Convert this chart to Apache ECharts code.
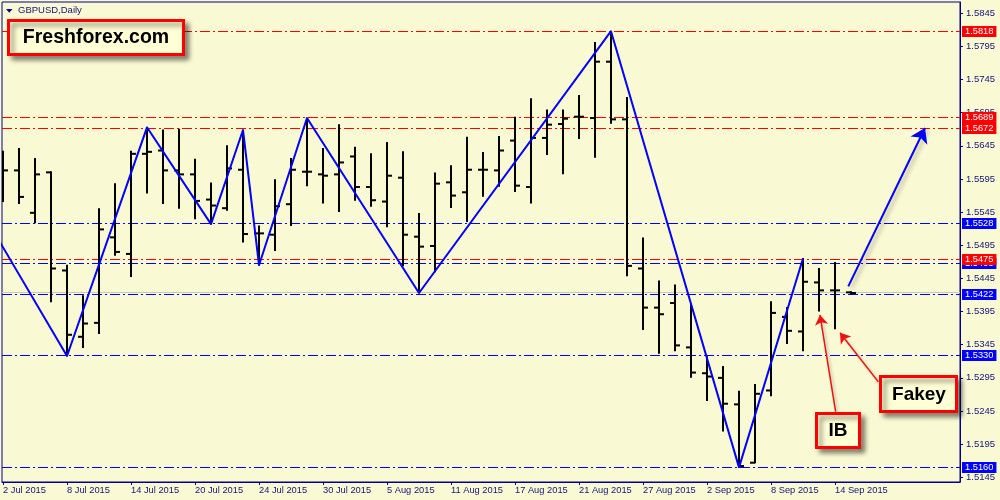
<!DOCTYPE html>
<html><head><meta charset="utf-8">
<script src="https://cdn.jsdelivr.net/npm/echarts@6/dist/echarts.min.js"></script>
<style>html,body{margin:0;padding:0;background:#f9f9d3}#c{width:1000px;height:500px}</style>
</head><body><div id="c"></div><script>
// ---- data ----
const dates = ['2 Jul 2015','3 Jul 2015','6 Jul 2015','7 Jul 2015','8 Jul 2015','9 Jul 2015','10 Jul 2015','13 Jul 2015','14 Jul 2015','15 Jul 2015','16 Jul 2015','17 Jul 2015','20 Jul 2015','21 Jul 2015','22 Jul 2015','23 Jul 2015','24 Jul 2015','27 Jul 2015','28 Jul 2015','29 Jul 2015','30 Jul 2015','31 Jul 2015','3 Aug 2015','4 Aug 2015','5 Aug 2015','6 Aug 2015','7 Aug 2015','10 Aug 2015','11 Aug 2015','12 Aug 2015','13 Aug 2015','14 Aug 2015','17 Aug 2015','18 Aug 2015','19 Aug 2015','20 Aug 2015','21 Aug 2015','24 Aug 2015','25 Aug 2015','26 Aug 2015','27 Aug 2015','28 Aug 2015','31 Aug 2015','1 Sep 2015','2 Sep 2015','3 Sep 2015','4 Sep 2015','7 Sep 2015','8 Sep 2015','9 Sep 2015','10 Sep 2015','11 Sep 2015','14 Sep 2015','15 Sep 2015'];
const open  = [1.5620,1.5608,1.5544,1.5605,1.5457,1.5357,1.5378,1.5507,1.5482,1.5633,1.5638,1.5608,1.5602,1.5564,1.5551,1.5609,1.5513,1.5511,1.5557,1.5606,1.5602,1.5602,1.5629,1.5583,1.5561,1.5597,1.5508,1.5494,1.5590,1.5575,1.5609,1.5608,1.5653,1.5583,1.5657,1.5678,1.5689,1.5687,1.5772,1.5685,1.5460,1.5401,1.5408,1.5341,1.5302,1.5295,1.5255,1.5167,1.5276,1.5387,1.5365,1.5439,1.5427,1.5424];
const high  = [1.5637,1.5641,1.5626,1.5606,1.5465,1.5419,1.5550,1.5588,1.5637,1.5673,1.5669,1.5670,1.5625,1.5589,1.5645,1.5669,1.5524,1.5594,1.5626,1.5687,1.5641,1.5677,1.5643,1.5633,1.5650,1.5636,1.5543,1.5604,1.5615,1.5658,1.5635,1.5659,1.5688,1.5716,1.5699,1.5699,1.5721,1.5801,1.5818,1.5718,1.5506,1.5441,1.5435,1.5406,1.5327,1.5312,1.5275,1.5285,1.5410,1.5401,1.5475,1.5460,1.5469,1.5425];
const low   = [1.5561,1.5558,1.5529,1.5410,1.5328,1.5341,1.5362,1.5480,1.5448,1.5574,1.5558,1.5551,1.5535,1.5527,1.5548,1.5500,1.5465,1.5487,1.5525,1.5585,1.5559,1.5546,1.5563,1.5554,1.5523,1.5464,1.5423,1.5455,1.5552,1.5531,1.5569,1.5584,1.5576,1.5559,1.5632,1.5603,1.5656,1.5628,1.5679,1.5449,1.5368,1.5332,1.5336,1.5296,1.5261,1.5215,1.5160,1.5167,1.5268,1.5347,1.5336,1.5396,1.5369,1.5421];
const close = [1.5608,1.5568,1.5602,1.5460,1.5360,1.5377,1.5519,1.5485,1.5633,1.5636,1.5608,1.5602,1.5562,1.5555,1.5611,1.5512,1.5513,1.5554,1.5609,1.5606,1.5600,1.5620,1.5583,1.5563,1.5600,1.5511,1.5493,1.5588,1.5570,1.5609,1.5609,1.5638,1.5585,1.5657,1.5677,1.5686,1.5689,1.5772,1.5685,1.5464,1.5401,1.5391,1.5344,1.5303,1.5297,1.5256,1.5162,1.5271,1.5393,1.5366,1.5440,1.5427,1.5427,1.5423];
const zigIdx   = [-1,4,9,13,15,16,19,26,38,46,50];
const zigPrice = [1.5533,1.5328,1.5673,1.5527,1.5669,1.5465,1.5687,1.5423,1.5818,1.5160,1.5475];
const redLevels  = [1.5818,1.5689,1.5672,1.5475];
const blueLevels = [1.5528,1.5468,1.5422,1.5330,1.5160];
const bidLevel = [1.5424];
const yTicks = [1.5145,1.5195,1.5245,1.5295,1.5345,1.5395,1.5445,1.5495,1.5545,1.5595,1.5645,1.5695,1.5745,1.5795,1.5845];
const xTickIdx = [0,4,8,12,16,20,24,28,32,36,40,44,48,52];
const trendArrow = [[52.83,1.5433],[57.625,1.5672]];
const ibArrow    = [[52.04,1.5244],[51.06,1.5390]];
const fakeyArrow = [[54.71,1.5289],[52.31,1.5363]];

// ---- chart ----
const FONT = '"Liberation Sans", Arial, sans-serif';
const NAVY = '#00008b';
const TXT = '#14147a';
const ohlc = dates.map((d,i)=>[i, open[i], high[i], low[i], close[i]]);
const zig = zigIdx.map((x,i)=>[x, zigPrice[i]]);
const dash = [10,3,2,3];

function renderBar(params, api){
  const i = api.value(0);
  const h = api.coord([i, api.value(2)]);
  const l = api.coord([i, api.value(3)]);
  const o = api.coord([i, api.value(1)]);
  const c = api.coord([i, api.value(4)]);
  const st = {stroke:'#000', lineWidth:2};
  return {type:'group', children:[
    {type:'line', shape:{x1:h[0], y1:h[1]-0.5, x2:l[0], y2:l[1]+0.5}, style:st},
    {type:'line', shape:{x1:o[0]-5, y1:o[1], x2:o[0], y2:o[1]}, style:st},
    {type:'line', shape:{x1:c[0], y1:c[1], x2:c[0]+5, y2:c[1]}, style:st}
  ]};
}
function levelRenderer(color, withLabel, lineDash){
  return function(params, api){
    const v = api.value(0);
    const cs = params.coordSys;
    const y = Math.round(api.coord([0, v])[1]) + 0.5;
    const kids = [{type:'line', shape:{x1:cs.x, y1:y, x2:cs.x+cs.width, y2:y},
      style:{stroke:color, lineWidth:1, lineDash:lineDash}}];
    if (withLabel) kids.push({type:'text', x:cs.x+cs.width+2, y:y,
      style:{text:v.toFixed(4), fill:'#fff', backgroundColor:color, padding:[1,3,0,3],
        font:'9.3px '+FONT, lineHeight:10, align:'left', verticalAlign:'middle',
        textAlign:'left', textVerticalAlign:'middle'}});
    return {type:'group', children:kids};
  };
}

const chart = echarts.init(document.getElementById('c'));
chart.setOption({
  animation:false,
  backgroundColor:'#f9f9d3',
  grid:{left:2, top:2, right:40, bottom:18, show:true, borderColor:NAVY, borderWidth:1, backgroundColor:'transparent'},
  xAxis:{type:'value', min:-0.0625, max:59.8125,
    axisLine:{show:true, onZero:false, lineStyle:{color:NAVY, width:1}},
    axisTick:{show:true, length:3, lineStyle:{color:NAVY}, customValues:xTickIdx},
    axisLabel:{show:true, customValues:xTickIdx, formatter:v=>dates[Math.round(v)]||'', align:'left', margin:4,
      color:TXT, fontFamily:FONT, fontSize:9.3},
    splitLine:{show:false}},
  yAxis:{type:'value', position:'right', min:1.513791, max:1.586205,
    axisLine:{show:true, onZero:false, lineStyle:{color:NAVY, width:1}},
    axisTick:{show:true, length:3, lineStyle:{color:NAVY}, customValues:yTicks},
    axisLabel:{show:true, customValues:yTicks, formatter:v=>v.toFixed(4), margin:6,
      color:TXT, fontFamily:FONT, fontSize:9.5},
    splitLine:{show:false}},
  series:[
    {type:'custom', renderItem:levelRenderer('#c8c8c8', false, null), data:bidLevel.map(v=>[v]), clip:false, silent:true, z:3},
    {type:'custom', renderItem:levelRenderer('#0000ff', true, dash), data:blueLevels.map(v=>[v]), clip:false, silent:true, z:4},
    {type:'custom', renderItem:levelRenderer('#ff0000', true, dash), data:redLevels.map(v=>[v]), clip:false, silent:true, z:5},
    {type:'custom', renderItem:renderBar, data:ohlc, clip:true, z:6, silent:true,
      encode:{x:0, y:[1,2,3,4]}},
    {type:'line', data:zig, symbol:'none', clip:true, z:7, silent:true,
      lineStyle:{color:'#0000ff', width:2}},
    {type:'lines', coordinateSystem:'cartesian2d', z:8, symbol:['none','arrow'], symbolSize:14, silent:true,
      lineStyle:{color:'#0000ff', width:2, opacity:1, shadowBlur:4, shadowOffsetX:3, shadowOffsetY:2, shadowColor:'rgba(0,0,0,0.3)'},
      data:[{coords:trendArrow}]},
    {type:'lines', coordinateSystem:'cartesian2d', z:8, symbol:['none','arrow'], symbolSize:10, silent:true,
      lineStyle:{color:'#ee1111', width:1.5, opacity:1, shadowBlur:3, shadowOffsetX:2, shadowOffsetY:2, shadowColor:'rgba(0,0,0,0.25)'},
      data:[{coords:ibArrow},{coords:fakeyArrow}]}
  ],
  graphic:[
    {type:'polygon', z:100, shape:{points:[[6,9],[12.5,9],[9.25,12.7]]}, style:{fill:NAVY}},
    {type:'text', z:100, x:18, y:10.5, style:{text:'GBPUSD,Daily', font:'9.5px '+FONT, fill:TXT, textAlign:'left', textVerticalAlign:'middle', align:'left', verticalAlign:'middle'}},
    {type:'rect', z:100, shape:{x:8.5, y:20.5, width:175, height:34},
      style:{fill:'#ffffd6', stroke:'#ff0000', lineWidth:3, shadowBlur:5, shadowOffsetX:4, shadowOffsetY:4, shadowColor:'rgba(0,0,0,0.45)'}},
    {type:'text', z:101, x:96, y:38, style:{text:'Freshforex.com', font:'bold 19.5px '+FONT, fill:'#000', textAlign:'center', textVerticalAlign:'middle', align:'center', verticalAlign:'middle'}},
    {type:'rect', z:100, shape:{x:880.5, y:376.5, width:76, height:35},
      style:{fill:'#ffffd6', stroke:'#ff0000', lineWidth:3, shadowBlur:5, shadowOffsetX:4, shadowOffsetY:4, shadowColor:'rgba(0,0,0,0.45)'}},
    {type:'text', z:101, x:919, y:395, style:{text:'Fakey', font:'bold 19px '+FONT, fill:'#000', textAlign:'center', textVerticalAlign:'middle', align:'center', verticalAlign:'middle'}},
    {type:'rect', z:100, shape:{x:816.5, y:413.5, width:43, height:34},
      style:{fill:'#ffffd6', stroke:'#ff0000', lineWidth:3, shadowBlur:5, shadowOffsetX:4, shadowOffsetY:4, shadowColor:'rgba(0,0,0,0.45)'}},
    {type:'text', z:101, x:838, y:431, style:{text:'IB', font:'bold 19px '+FONT, fill:'#000', textAlign:'center', textVerticalAlign:'middle', align:'center', verticalAlign:'middle'}}
  ]
});
</script></body></html>
